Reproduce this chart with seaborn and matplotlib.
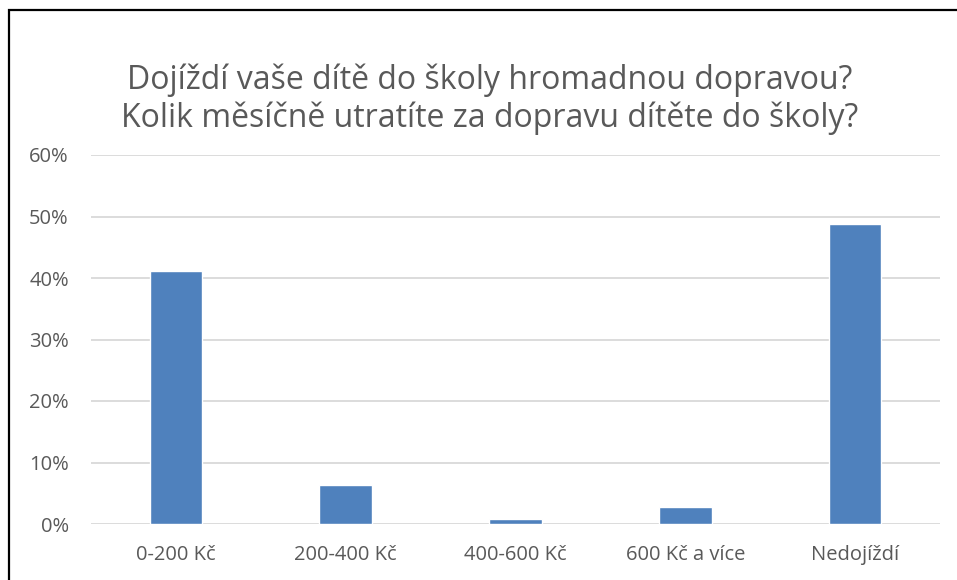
import matplotlib
matplotlib.use("Agg")
import matplotlib.pyplot as plt
import matplotlib.patches as patches
from matplotlib.ticker import PercentFormatter
import seaborn as sns
import pandas as pd

# DATA
kategorie = ["0-200 Kč", "200-400 Kč", "400-600 Kč", "600 Kč a více", "Nedojíždí"]
podil = [0.412, 0.064, 0.008, 0.027, 0.487]
titulek = ["Dojíždí vaše dítě do školy hromadnou dopravou?",
           "Kolik měsíčně utratíte za dopravu dítěte do školy?"]
y_ticks = [0, 0.1, 0.2, 0.3, 0.4, 0.5, 0.6]

df = pd.DataFrame({"Kategorie": kategorie, "Podil": podil})

sns.set_style("white")
plt.rcParams["font.family"] = ["Open Sans", "DejaVu Sans"]

W, H = 957, 580
fig = plt.figure(figsize=(W / 100, H / 100), dpi=100)
ax = fig.add_axes([91 / W, 1 - 524 / H, (940 - 91) / W, (524 - 155) / H])

sns.barplot(data=df, x="Kategorie", y="Podil", color="#4F81BD", width=0.31,
            saturation=1, ax=ax, zorder=3)

ax.set_ylim(0, 0.6)
ax.set_xlim(-0.5, len(kategorie) - 0.5)
ax.set_yticks(y_ticks)
ax.yaxis.set_major_formatter(PercentFormatter(1.0, decimals=0))
ax.grid(axis="y", color="#D9D9D9", linewidth=1.3, zorder=0)
ax.set_axisbelow(True)
for s in ax.spines.values():
    s.set_visible(False)
ax.set_xlabel("")
ax.set_ylabel("")
ax.tick_params(axis="both", length=0, labelsize=14.5, labelcolor="#595959")
ax.tick_params(axis="y", pad=16)
ax.tick_params(axis="x", pad=15)

# titulek
fig.text(0.512, 1 - 80 / H, titulek[0], ha="center", va="center",
         fontsize=23, color="#595959")
fig.text(0.512, 1 - 118 / H, titulek[1], ha="center", va="center",
         fontsize=23, color="#595959")

# ramecek
fig.add_artist(patches.Rectangle((9 / W, -0.1), 1.2, 1 - 10 / H + 0.1,
                                 transform=fig.transFigure, fill=False,
                                 edgecolor="black", linewidth=1.6))

fig.savefig("out.png", dpi=100)
